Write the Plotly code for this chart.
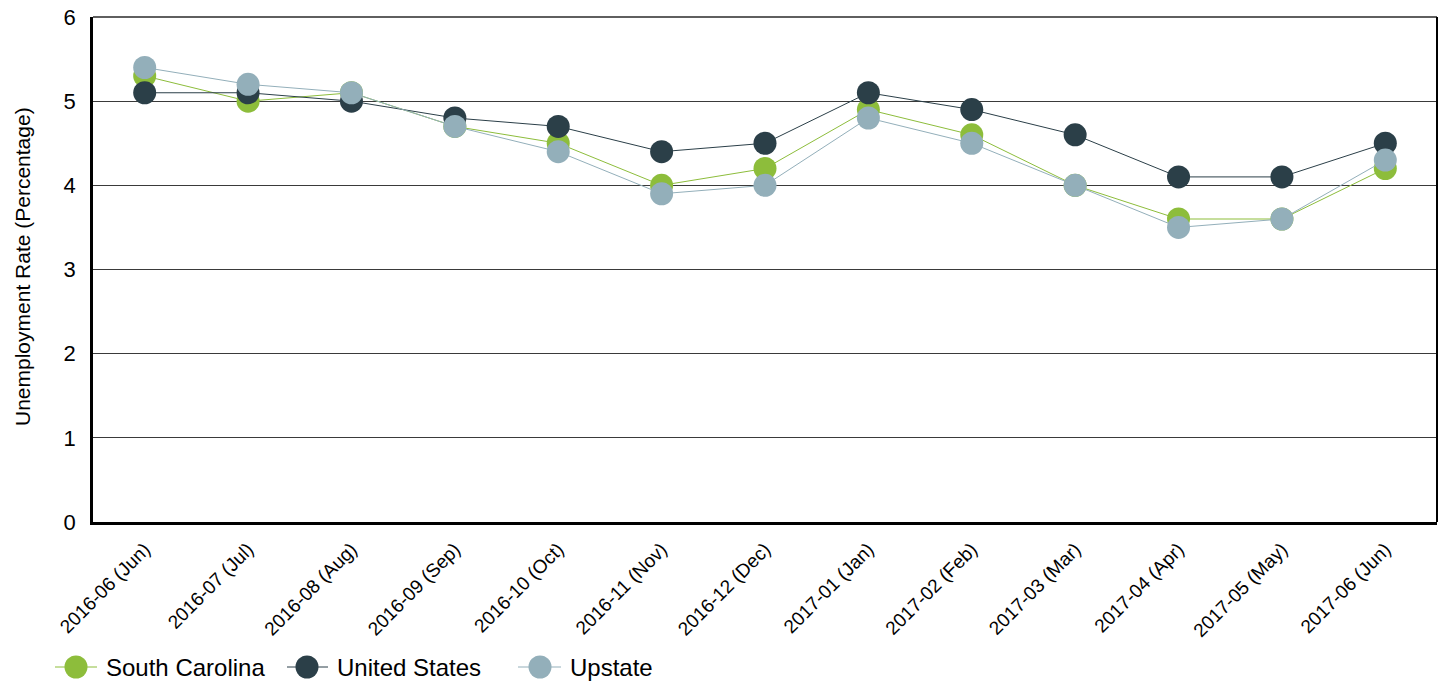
import plotly.graph_objects as go

months = ["2016-06 (Jun)", "2016-07 (Jul)", "2016-08 (Aug)", "2016-09 (Sep)", "2016-10 (Oct)",
          "2016-11 (Nov)", "2016-12 (Dec)", "2017-01 (Jan)", "2017-02 (Feb)", "2017-03 (Mar)",
          "2017-04 (Apr)", "2017-05 (May)", "2017-06 (Jun)"]
south_carolina = [5.3, 5.0, 5.1, 4.7, 4.5, 4.0, 4.2, 4.9, 4.6, 4.0, 3.6, 3.6, 4.2]
united_states = [5.1, 5.1, 5.0, 4.8, 4.7, 4.4, 4.5, 5.1, 4.9, 4.6, 4.1, 4.1, 4.5]
upstate = [5.4, 5.2, 5.1, 4.7, 4.4, 3.9, 4.0, 4.8, 4.5, 4.0, 3.5, 3.6, 4.3]

series_names = ["South Carolina", "United States", "Upstate"]
series_values = [south_carolina, united_states, upstate]
series_colors = ["#8dbd3b", "#2b3f48", "#93afba"]

# body margin is removed in the page, so figure pixels == page pixels
W, H = 1443, 686
# plot area: left 93, right 1437, top 17, bottom 522
L, T = 93, 17
R = W - 1437
B = H - 522
PW, PH = W - L - R, H - T - B

def px_x(p):
    return (p - L) / PW

def px_y(p):
    return (H - B - p) / PH

fig = go.Figure()
for name, vals, col in zip(series_names, series_values, series_colors):
    fig.add_trace(go.Scatter(
        x=months, y=vals, name=name, mode="lines+markers",
        line=dict(color=col, width=1),
        marker=dict(color=col, size=23, line=dict(width=0)),
        showlegend=False,
    ))

fig.update_layout(
    width=W, height=H,
    margin=dict(l=L, r=R, t=T, b=B),
    paper_bgcolor="white", plot_bgcolor="white",
    font=dict(family="Liberation Sans, Arial, sans-serif", color="#000000"),
    showlegend=False,
    xaxis=dict(type="category", range=[-0.5, 12.5], tickangle=-45,
               tickfont=dict(size=19), showgrid=False, automargin=False,
               showline=True, linecolor="#000000", linewidth=2.5,
               ticks="", ticklabelstandoff=6, ticklabeloverflow="allow"),
    yaxis=dict(range=[0, 6], dtick=1, tickfont=dict(size=22), automargin=False,
               showgrid=True, gridcolor="#3a3a3a", gridwidth=1.4,
               showline=True, linecolor="#000000", linewidth=2.5,
               zeroline=False, ticks="", ticklabelstandoff=10,
               ticklabeloverflow="allow"),
)

# frame: top and right
fig.add_shape(type="line", xref="paper", yref="paper", x0=0, x1=1, y0=1, y1=1,
              line=dict(color="#2a2a2a", width=1.6), layer="below")
fig.add_shape(type="line", xref="paper", yref="paper", x0=1, x1=1, y0=0, y1=1,
              line=dict(color="#000000", width=2))

# y-axis title
fig.add_annotation(text="Unemployment Rate (Percentage)", xref="paper", yref="paper",
                   x=px_x(22), y=px_y(267), textangle=-90, showarrow=False,
                   xanchor="center", yanchor="middle", font=dict(size=21))

# custom legend (line + big circle + label)
leg_y = px_y(667)
leg_items = [(55, 97, 76, 104), (287, 328, 307, 335), (518, 561, 540, 568)]
for (lx0, lx1, cx, tx), name, col in zip(leg_items, series_names, series_colors):
    fig.add_shape(type="line", xref="paper", yref="paper",
                  x0=px_x(lx0), x1=px_x(lx1), y0=leg_y, y1=leg_y,
                  line=dict(color=col, width=1))
    fig.add_shape(type="circle", xref="paper", yref="paper",
                  xsizemode="pixel", ysizemode="pixel",
                  xanchor=px_x(cx), yanchor=leg_y,
                  x0=-11.5, x1=11.5, y0=-11.5, y1=11.5,
                  fillcolor=col, line=dict(width=0))
    fig.add_annotation(text=name, xref="paper", yref="paper", x=px_x(tx), y=leg_y,
                       xanchor="left", yanchor="middle", showarrow=False,
                       font=dict(size=24, color="#000000"))

fig.write_html("out.html",
               config={"displayModeBar": False},
               post_script="document.body.style.margin='0';document.body.style.overflow='hidden';")
